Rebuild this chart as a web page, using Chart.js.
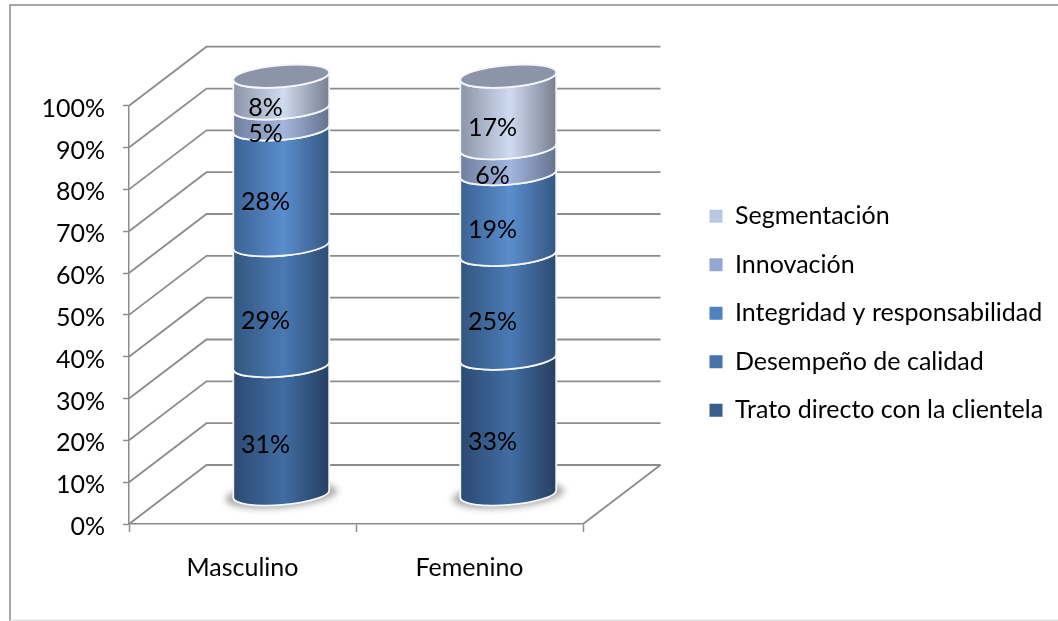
<!DOCTYPE html>
<html>
<head>
<meta charset="utf-8">
<style>
  html, body { margin: 0; padding: 0; background: #fff; overflow: hidden; }
  canvas { display: block; }
</style>
<script src="https://cdn.jsdelivr.net/npm/chart.js@4"></script>
</head>
<body>
<canvas id="chart" width="1058" height="621"></canvas>
<script>
// Data
const categories = ["Masculino", "Femenino"];
const seriesNames = ["Trato directo con la clientela", "Desempeño de calidad", "Integridad y responsabilidad", "Innovación", "Segmentación"];
const trato = [30.8, 32.6];
const desempeno = [28.9, 24.8];
const integridad = [27.7, 19.3];
const innovacion = [5.0, 6.2];
const segmentacion = [7.6, 17.1];
const yTicks = [0, 10, 20, 30, 40, 50, 60, 70, 80, 90, 100];

const seriesValues = [trato, desempeno, integridad, innovacion, segmentacion];
const legendColors = ["#3b5e8f", "#4674aa", "#5082c0", "#94a8cf", "#b9c7e2"];
// cylinder shading: left edge, centre, right edge
const shades = [
  ["#2c4a72", "#416ca2", "#263f5f"],
  ["#33567f", "#4a7ab4", "#2d4c73"],
  ["#3b6293", "#5a8dcd", "#345781"],
  ["#717f9e", "#a2b6de", "#65718d"],
  ["#8b94a8", "#cfdbf1", "#787f90"]
];

const FONT = "Lato";
const FONT_SIZE = 25;
const LINE = "#8c8c8c";
const DEPTH_X = 77.5;
const DEPTH_Y = 59;
const RY = 11;
const TILT = -4.7 * Math.PI / 180;

// 3D walls, cylinders and value labels, all placed from the chart scales
const cylinders = {
  id: "cylinders",
  beforeLayout(chart) {
    const legend = chart.legend;
    if (legend && !legend._fixed) {
      const fit = legend.fit.bind(legend);
      legend.fit = () => { fit(); legend.width = 475; };
      legend._fixed = true;
    }
  },
  afterLayout(chart) {
    const legend = chart.legend;
    legend.left += 103;
    legend.top -= 50;
    legend.bottom -= 50;
    legend.adjustHitBoxes();
  },
  beforeDraw(chart) {
    const c = chart.ctx;
    c.save();
    c.fillStyle = "#fff";
    c.fillRect(0, 0, chart.width, chart.height);
    c.lineWidth = 1.5;
    c.strokeStyle = "#8a8a8a";
    c.beginPath();
    c.moveTo(1058, 5);
    c.lineTo(10, 5);
    c.lineTo(10, 621);
    c.stroke();
    c.strokeStyle = "#dcdcdc";
    c.beginPath();
    c.moveTo(10, 620.5);
    c.lineTo(1058, 620.5);
    c.stroke();
    c.restore();
  },
  beforeDatasetsDraw(chart) {
    const c = chart.ctx;
    const { x: xs, y: ys } = chart.scales;
    const left = xs.left, right = xs.right;

    c.save();
    c.strokeStyle = LINE;
    c.lineWidth = 1.8;
    yTicks.forEach(t => {
      const py = ys.getPixelForValue(t);
      c.beginPath();
      c.moveTo(left, py);
      c.lineTo(left + DEPTH_X, py - DEPTH_Y);
      c.lineTo(right + DEPTH_X, py - DEPTH_Y);
      c.stroke();
    });
    const floor = ys.getPixelForValue(0);
    c.beginPath();
    c.moveTo(right, floor);
    c.lineTo(right + DEPTH_X, floor - DEPTH_Y);
    c.stroke();

    categories.forEach((_, i) => drawCylinder(chart, i));
    c.restore();
    return false;
  }
};

function drawCylinder(chart, i) {
  const c = chart.ctx;
  const first = chart.getDatasetMeta(0).data[i];
  const rx = first.width / 2;
  const cx = first.x + DEPTH_X / 2;
  const off = -DEPTH_Y / 2;

  // floor shadow
  c.save();
  c.filter = "blur(3px)";
  c.fillStyle = "rgba(120,120,120,0.6)";
  c.beginPath();
  c.ellipse(cx, first.base + off + 1, rx + 8, RY + 2, TILT, 0, Math.PI * 2);
  c.fill();
  c.restore();

  let topY = 0;
  seriesNames.forEach((_, s) => {
    const bar = chart.getDatasetMeta(s).data[i];
    const yb = bar.base + off;
    const yt = bar.y + off;
    topY = yt;

    const g = c.createLinearGradient(cx - rx, 0, cx + rx, 0);
    g.addColorStop(0, shades[s][0]);
    g.addColorStop(0.52, shades[s][1]);
    g.addColorStop(1, shades[s][2]);

    c.beginPath();
    c.ellipse(cx, yb, rx, RY, TILT, Math.PI, 0, true);
    c.ellipse(cx, yt, rx, RY, TILT, 0, Math.PI, false);
    c.closePath();
    c.fillStyle = g;
    c.fill();
    c.strokeStyle = "#f4f6f8";
    c.lineWidth = 1.8;
    c.stroke();
  });

  c.beginPath();
  c.ellipse(cx, topY, rx, RY, TILT, 0, Math.PI * 2);
  c.fillStyle = "#8b94a9";
  c.fill();
  c.strokeStyle = "#f4f6f8";
  c.lineWidth = 1.8;
  c.stroke();

  // value labels sit left of the cylinder axis
  c.fillStyle = "#000";
  c.font = FONT_SIZE + "px " + FONT;
  c.textAlign = "center";
  c.textBaseline = "middle";
  seriesNames.forEach((_, s) => {
    const bar = chart.getDatasetMeta(s).data[i];
    const label = Math.round(seriesValues[s][i]) + "%";
    c.fillText(label, bar.x + 23, (bar.y + bar.base) / 2 - 14);
  });
}

new Chart(document.getElementById("chart"), {
  type: "bar",
  data: {
    labels: categories,
    datasets: seriesNames.map((name, s) => ({
      label: name,
      data: seriesValues[s],
      backgroundColor: legendColors[s],
      barPercentage: 1,
      categoryPercentage: 0.424
    }))
  },
  options: {
    responsive: false,
    animation: false,
    layout: { padding: { top: 105.7, left: 0, right: 0, bottom: 0 } },
    plugins: {
      tooltip: { enabled: false },
      legend: {
        position: "right",
        reverse: true,
        labels: {
          boxWidth: 13,
          boxHeight: 13,
          padding: 23.5,
          color: "#000",
          font: { family: FONT, size: FONT_SIZE }
        }
      }
    },
    scales: {
      x: {
        stacked: true,
        afterFit: s => { s.height = 97; },
        border: { color: LINE, width: 1.5 },
        grid: { drawOnChartArea: false, drawTicks: true, tickLength: 8, tickColor: LINE, tickWidth: 1.5 },
        ticks: { color: "#000", padding: 21, maxRotation: 0, font: { family: FONT, size: FONT_SIZE } }
      },
      y: {
        stacked: true,
        min: 0,
        max: 100,
        afterFit: s => { s.width = 129; },
        afterBuildTicks: s => { s.ticks = yTicks.map(v => ({ value: v })); },
        border: { color: LINE, width: 1.5 },
        grid: { drawOnChartArea: false, drawTicks: true, tickLength: 6, tickColor: LINE, tickWidth: 1.5 },
        ticks: { color: "#000", padding: 18, labelOffset: 3, font: { family: FONT, size: FONT_SIZE }, callback: v => v + "%" }
      }
    }
  },
  plugins: [cylinders]
});
</script>
</body>
</html>
